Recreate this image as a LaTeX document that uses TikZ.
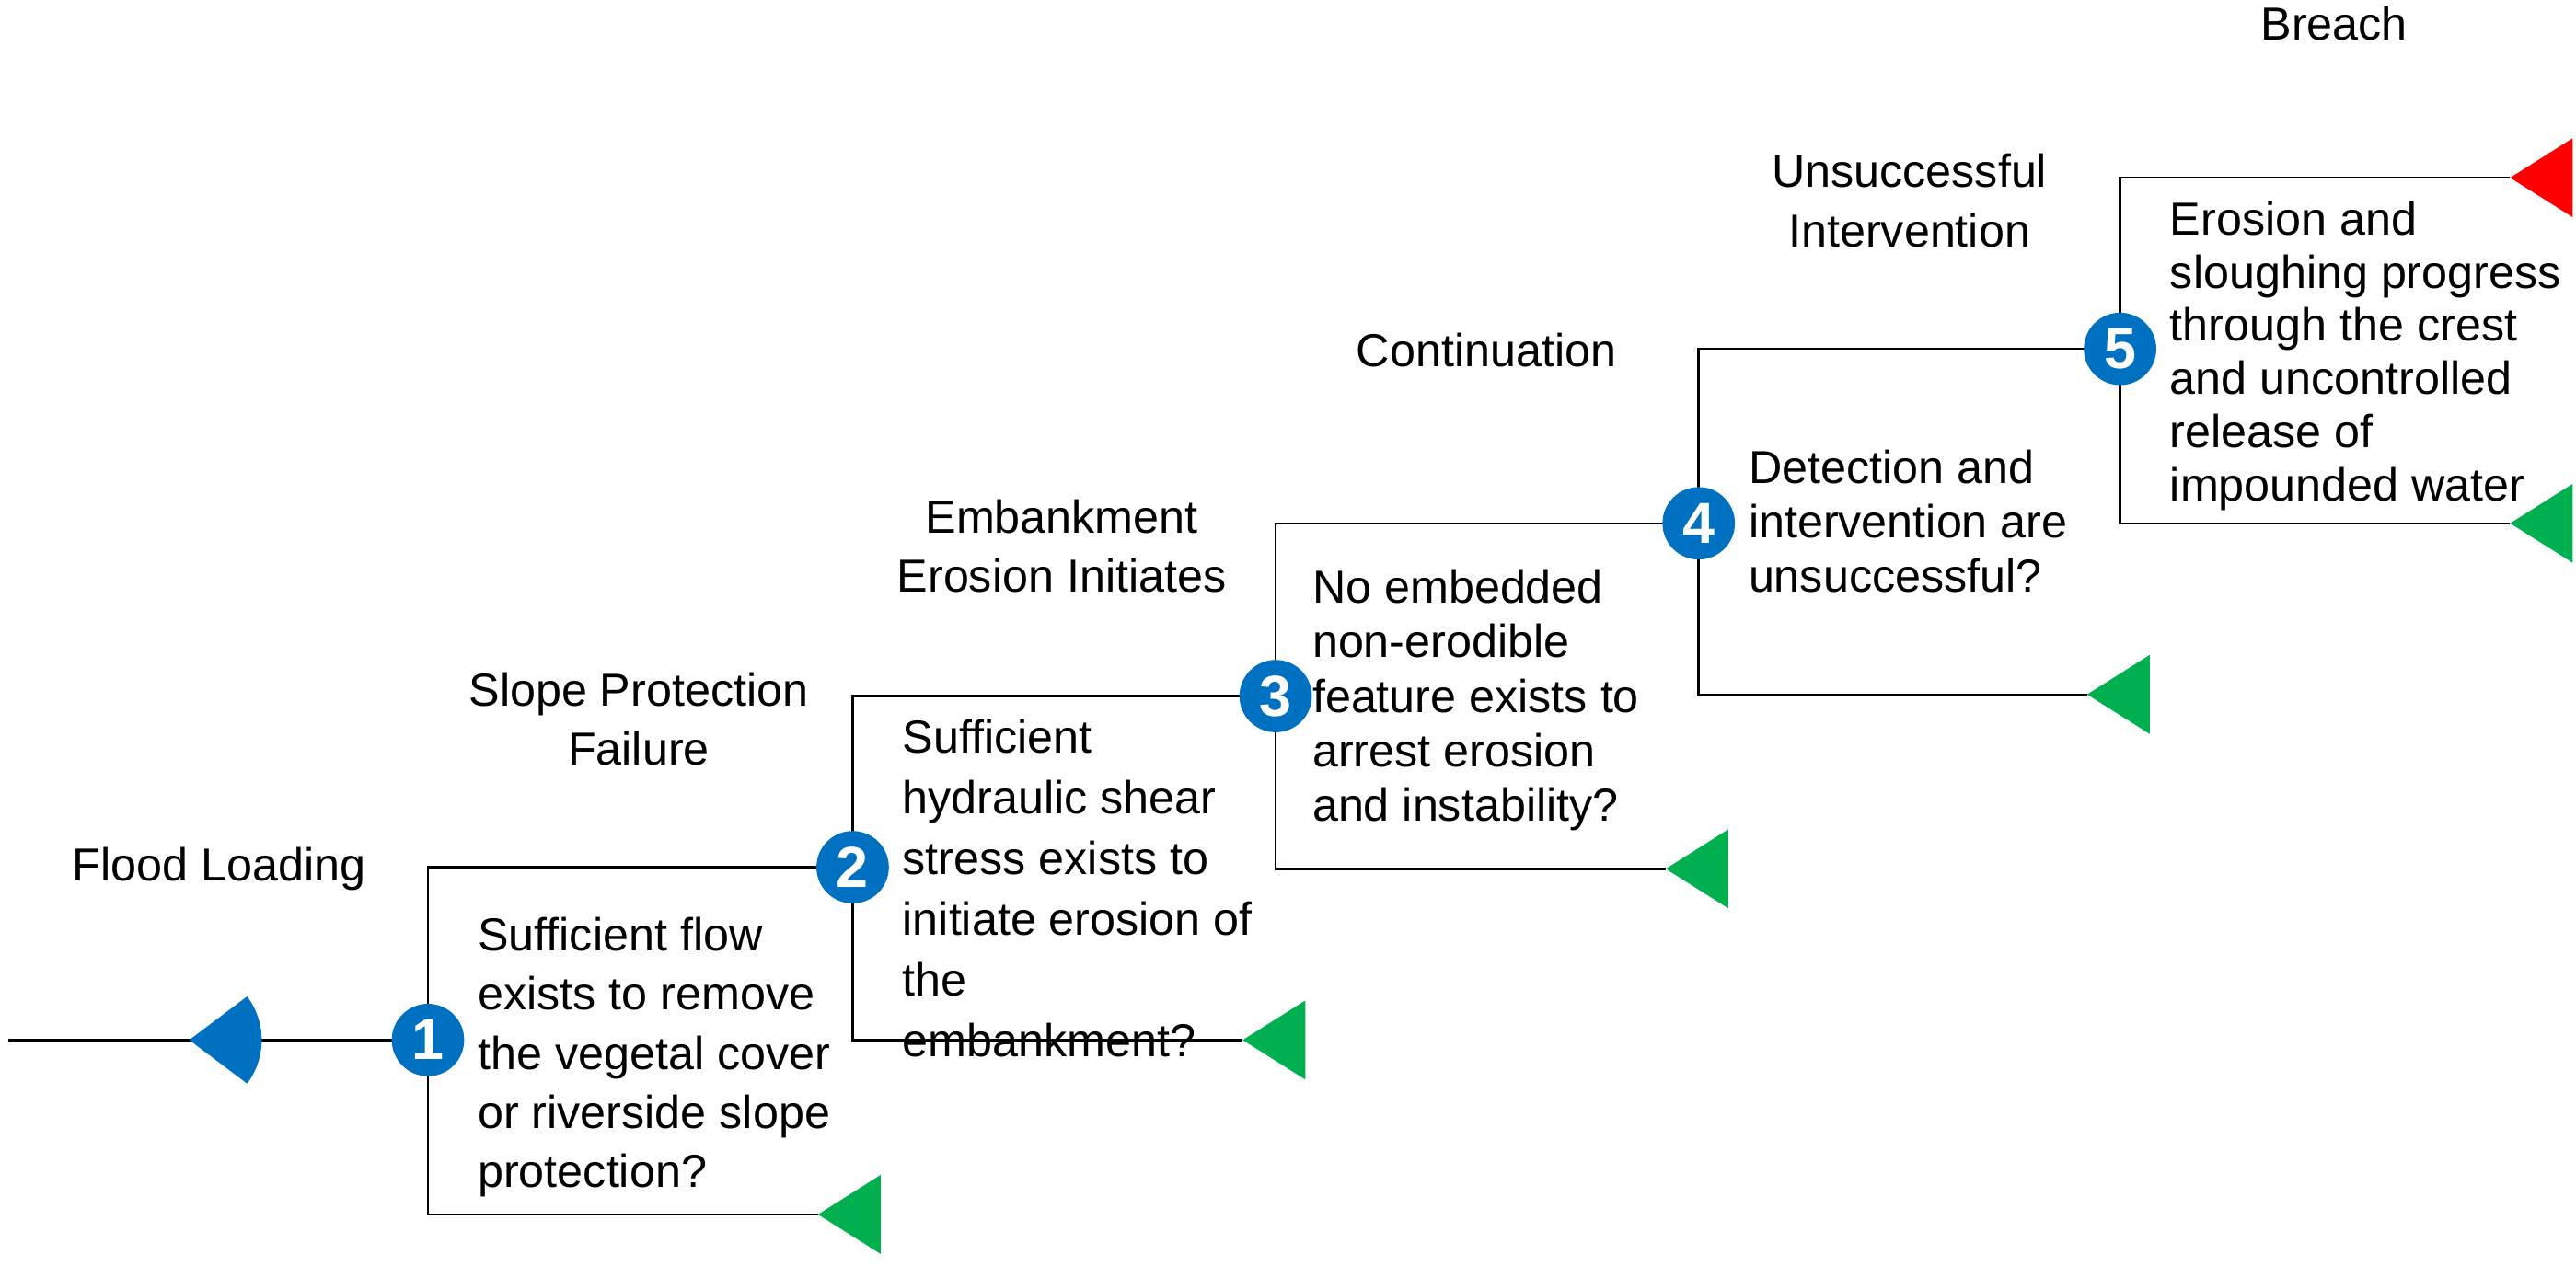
\documentclass[tikz,border=0pt]{standalone}
\usepackage{fontspec}
\setmainfont{Liberation Sans}
\tikzset{
  evt/.style = {circle,fill=evblue,text=white,font=\fontsize{20}{20}\selectfont\bfseries,minimum size=0.88cm,inner sep=0pt},
  ques/.style = {anchor=north west,align=left,inner sep=0pt,font=\fontsize{16}{#1}\selectfont},
  ques/.default = 20.5,
  head/.style = {align=center,inner sep=0pt,font=\fontsize{16}{20.5}\selectfont},
  branch/.style = {thick}
}
\definecolor{evblue}{HTML}{0070C0}
\definecolor{evgreen}{HTML}{00B050}
\definecolor{evred}{HTML}{FF0000}
\newcommand{\branchtip}[2]{\fill[#2] (#1) -- ++(38,-24) -- ++(0,48) -- cycle;}
\begin{document}
\begin{tikzpicture}[x=0.02cm,y=-0.02cm]
\useasboundingbox (0,0) rectangle (1565,769);
% events
\coordinate (e1) at (260,632);
\coordinate (e2) at (518,527);
\coordinate (e3) at (775,423);
\coordinate (e4) at (1032,318);
\coordinate (e5) at (1288,212);
\coordinate (start) at (5,632);
\coordinate (fl) at (115,632);
% branch ends
\coordinate (n1) at (497,738);
\coordinate (n2) at (755,632);
\coordinate (n3) at (1012,528);
\coordinate (n4) at (1268,422);
\coordinate (n5) at (1525,318);
\coordinate (y5) at (1525,108);
% lines
\draw[branch] (start) -- (e1);
\draw[branch] (e1) -- (260,527) -- (e2);
\draw[branch] (e1) -- (260,738) -- (n1);
\draw[branch] (e2) -- (518,423) -- (e3);
\draw[branch] (e2) -- (518,632) -- (n2);
\draw[branch] (e3) -- (775,318) -- (e4);
\draw[branch] (e3) -- (775,528) -- (n3);
\draw[branch] (e4) -- (1032,212) -- (e5);
\draw[branch] (e4) -- (1032,422) -- (n4);
\draw[branch] (e5) -- (1288,108) -- (y5);
\draw[branch] (e5) -- (1288,318) -- (n5);
\node[evt] at (e1) {1};
\node[evt] at (e2) {2};
\node[evt] at (e3) {3};
\node[evt] at (e4) {4};
\node[evt] at (e5) {5};
% markers
\fill[evblue] (fl) -- ++(-37:44) arc (-37:37:44) -- cycle;
\branchtip{n1}{evgreen}
\branchtip{n2}{evgreen}
\branchtip{n3}{evgreen}
\branchtip{n4}{evgreen}
\branchtip{n5}{evgreen}
\branchtip{y5}{evred}
% headings
\node[head] (h0) at (133,528) {Flood Loading};
\node[head] (h1) at (388,437) {Slope Protection\\Failure};
\node[head] (h2) at (645,332) {Embankment\\Erosion Initiates};
\node[head] (h3) at (903,213) {Continuation};
\node[head] (h4) at (1160,122) {Unsuccessful\\Intervention};
\node[head] (h5) at (1418,14) {Breach};
% questions
\node[ques] (q1) at (290,557) {Sufficient flow\\exists to remove\\the vegetal cover\\or riverside slope\\protection?};
\node[ques=21] (q2) at (548,437) {Sufficient\\hydraulic shear\\stress exists to\\initiate erosion of\\the\\embankment?};
\node[ques=18.8] (q3) at (797,346) {No embedded\\non-erodible\\feature exists to\\arrest erosion\\and instability?};
\node[ques=18.8] (q4) at (1062,273) {Detection and\\intervention are\\unsuccessful?};
\node[ques=18.4] (q5) at (1318,122) {Erosion and\\sloughing progress\\through the crest\\and uncontrolled\\release of\\impounded water};
\end{tikzpicture}
\end{document}
